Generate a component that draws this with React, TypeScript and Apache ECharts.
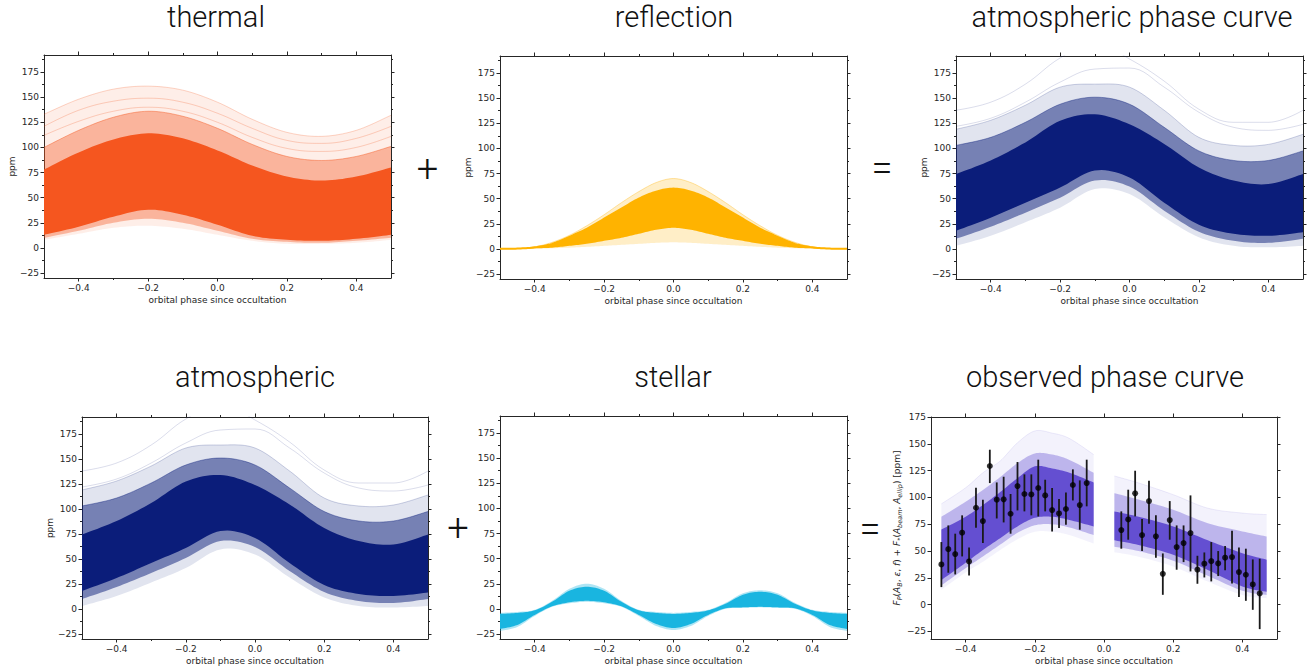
import React, { useEffect, useRef } from "react";
import * as echarts from "echarts";

// ---------- data ----------
const PHASE = [-0.5, -0.4, -0.3, -0.2, -0.1, 0, 0.1, 0.2, 0.3, 0.4, 0.5];
const PHASE_FINE = [-0.5, -0.45, -0.4, -0.35, -0.3, -0.25, -0.2, -0.15, -0.1, -0.05, 0, 0.05, 0.1, 0.15, 0.2, 0.25, 0.3, 0.35, 0.4, 0.45, 0.5];

// thermal
const thermalOuterHi = [133, 148, 158, 161, 157, 145, 128, 115, 111, 117, 132];
const thermalOuterLo = [8, 14, 20, 22, 19, 13, 7, 4, 4, 5, 8];
const thermalMidHi = [100, 117, 130, 136, 131, 119, 103, 91, 87, 91, 101];
const thermalMidLo = [10, 17, 25, 29, 25, 17, 9, 6, 5, 7, 10];
const thermalCoreHi = [78, 95, 108, 114, 109, 97, 82, 71, 67, 71, 80];
const thermalCoreLo = [13, 21, 31, 38, 33, 23, 12, 8, 7, 9, 13];
const thermalLineA = [121, 137, 146, 149, 145, 134, 119, 107, 104, 109, 121];
const thermalLineB = [112, 126, 136, 140, 136, 125, 110, 99, 96, 100, 111];

// reflection
const reflOuterHi = [0, 0.4, 2, 6.5, 13.5, 23, 34, 46, 57, 66, 70, 66, 57, 46, 34, 23, 13.5, 6.5, 2, 0.4, 0];
const reflOuterLo = [0, 0, 0.2, 0.6, 1.2, 2, 3, 4, 5, 6, 6.5, 6, 5, 4, 3, 2, 1.2, 0.6, 0.2, 0, 0];
const reflCoreHi = [0, 0.3, 1.5, 5, 12, 20, 30, 40, 50, 57, 60, 57, 50, 40, 30, 20, 12, 5, 1.5, 0.3, 0];
const reflCoreLo = [0, 0.1, 0.5, 1.2, 3, 5, 8, 11, 15, 19, 21, 19, 15, 11, 8, 5, 3, 1.2, 0.5, 0.1, 0];

// atmospheric (thermal + reflection)
const atmOuterHi = [119, 128, 143, 161, 164, 161, 138, 111, 103, 104, 114];
const atmOuterLo = [3, 13, 26.5, 41, 59.6, 54.5, 31.4, 11.5, 3, 1.5, 3];
const atmMidHi = [103, 111, 126, 144, 151, 144, 121, 97.5, 88, 88, 97.5];
const atmMidLo = [10, 22, 36, 51, 68, 62, 38, 17, 8, 6, 10];
const atmCoreHi = [74.5, 88, 106, 127.5, 134, 124, 104.5, 81, 68, 64.5, 74.5];
const atmCoreLo = [18, 31, 46, 61, 78, 71, 46, 24, 15, 13, 16.5];
const atmLineTop = [138, 146, 164, 190, 205, 189, 167, 139, 126, 126, 138];
const atmLineSecond = [122, 130, 146, 166, 179, 180, 161, 136, 121, 118, 124];

// stellar
const stellarOuterHi = [-4, -3, -1, 8, 20, 25, 20, 8, -1, -3, -4, -3, -1, 6, 15.5, 18.5, 15.5, 6, -1, -3, -4];
const stellarOuterLo = [-22, -18, -7, 2, 5.5, 7, 5.5, 2, -7, -17, -21, -17, -7, 0, 1, 1.5, 1, 0, -7, -18, -22];
const stellarCoreHi = [-5, -4, -1.5, 7, 18, 22, 18, 7, -1.5, -4, -5, -4, -1.5, 5, 14, 17, 14, 5, -1.5, -4, -5];
const stellarCoreLo = [-20, -16, -6, 2.5, 6.5, 8, 6.5, 2.5, -6, -15, -19, -15, -6, 0.5, 1.5, 2, 1.5, 0.5, -6, -16, -20];

// observed: model envelopes
const obsLeftPhase = [-0.47, -0.4, -0.35, -0.3, -0.25, -0.2, -0.15, -0.1, -0.03];
const obsLeftOuterHi = [94, 109, 123, 134, 151, 162, 160, 155, 140];
const obsLeftOuterLo = [14, 30, 40, 51, 61, 68, 68, 65, 57];
const obsLeftMidHi = [82, 96, 107, 119, 132, 141, 140, 135, 123];
const obsLeftMidLo = [18, 34, 45, 56, 67, 74, 75, 72, 65];
const obsLeftCoreHi = [70, 82, 93, 105, 118, 129, 127, 123, 114];
const obsLeftCoreLo = [23, 39, 51, 62, 73, 81, 82, 79, 73];
const obsRightPhase = [0.03, 0.1, 0.2, 0.3, 0.4, 0.47];
const obsRightOuterHi = [120, 113.5, 102.6, 90, 85.4, 84];
const obsRightOuterLo = [49, 44.7, 35.6, 21.5, 9, 6];
const obsRightMidHi = [104, 98, 88.5, 76, 68.3, 63.6];
const obsRightMidLo = [54, 50, 41, 27, 13, 9];
const obsRightCoreHi = [87, 82, 73, 60, 48, 42];
const obsRightCoreLo = [60, 55.6, 46.5, 32.4, 17, 12];

// observed: binned data with error bars
const obsX = [-0.47, -0.45, -0.43, -0.41, -0.39, -0.37, -0.35, -0.33, -0.31, -0.29, -0.27, -0.25, -0.23, -0.21, -0.19, -0.17, -0.15, -0.13, -0.11, -0.09, -0.07, -0.05,
  0.05, 0.07, 0.09, 0.11, 0.13, 0.15, 0.17, 0.19, 0.21, 0.23, 0.25, 0.27, 0.29, 0.31, 0.33, 0.35, 0.37, 0.39, 0.41, 0.43, 0.45];
const obsY = [37.5, 51.8, 47.2, 67.1, 40.3, 90.4, 78.0, 129.3, 97.9, 98.2, 84.8, 110.6, 103.2, 102.8, 108.8, 101.9, 88.2, 85.1, 89.2, 111.6, 92.9, 113.4,
  69.6, 79.5, 103.8, 64.9, 96.6, 63.7, 28.8, 78.9, 53.7, 57.4, 66.8, 32.6, 38.2, 40.6, 38.5, 43.8, 44.4, 30.4, 27.9, 18.9, 10.5];
const obsHi = [58.4, 73.9, 66.2, 83.3, 53.4, 109.1, 97.9, 144.5, 114.0, 119.3, 103.2, 133.0, 121.5, 121.5, 135.2, 116.5, 108.8, 98.5, 104.7, 126.2, 115.9, 135.2,
  87.0, 107.2, 124.9, 79.8, 115.6, 83.3, 47.8, 96.6, 73.9, 73.9, 101.9, 45.6, 48.7, 58.4, 50.0, 54.6, 69.0, 53.4, 52.2, 42.2, 42.8];
const obsLo = [16.4, 29.8, 28.2, 45.0, 27.3, 71.7, 57.4, 113.4, 80.4, 76.7, 66.2, 87.9, 87.0, 83.3, 82.3, 87.0, 68.3, 71.4, 74.5, 97.2, 69.9, 91.7,
  52.2, 60.6, 82.3, 50.0, 75.5, 43.8, 9.2, 60.6, 32.6, 39.7, 31.0, 19.5, 25.4, 21.7, 26.7, 32.0, 19.8, 7.1, 3.6, -4.8, -22.8];

// axis ticks
const X_MAJOR = [-0.4, -0.2, 0, 0.2, 0.4];
const X_MINOR = [-0.3, -0.1, 0.1, 0.3];
const Y_MAJOR = [-25, 0, 25, 50, 75, 100, 125, 150, 175];
const Y_MINOR = [-12.5, 12.5, 37.5, 62.5, 87.5, 112.5, 137.5, 162.5, 187.5];

// ---------- styling ----------
const THERMAL = "#F5561F";
const REFL = "#FFB300";
const NAVY = "#0B1D7A";
const CYAN = "#19B5E0";
const PURPLE = "#5A44CE";
const AX = "#262626";
const TICK_FONT = { fontFamily: "DejaVu Sans", fontSize: 9, color: AX };
const TITLE_FONT = "Roboto, 'Liberation Sans', sans-serif";

const fmt = (v: number, d: number) => (v < 0 ? "\u2212" : "") + Math.abs(v).toFixed(d);

const GRIDS = [
  { left: 44, top: 55, width: 347, height: 223, ymin: -30, ymax: 192, minor: true, yName: "ppm" },
  { left: 500, top: 56, width: 347, height: 223, ymin: -30, ymax: 192, minor: true, yName: "ppm" },
  { left: 956, top: 56, width: 347, height: 223, ymin: -30, ymax: 192, minor: true, yName: "ppm" },
  { left: 82, top: 417, width: 346, height: 222, ymin: -30, ymax: 192, minor: true, yName: "ppm" },
  { left: 500, top: 416, width: 347, height: 223, ymin: -30, ymax: 192, minor: true, yName: "" },
  { left: 931, top: 417, width: 346, height: 222, ymin: -32, ymax: 175, minor: false, yName: "OBS" },
];

const OBS_NAME =
  "{i|F}{s|P}{n|(}{i|A}{s|B}{n|, }{i|\u03b5}{n|, }{i|f}{n|) + }{i|F}{s|*}{n|(}{i|A}{s|beam}{n|, }{i|A}{s|ellip}{n|) [ppm]}";

type Band = { x: number[]; lo: number[]; hi: number[]; color: string; fill: number; lw: number; lineOp?: number };
type Line = { x: number[]; y: number[]; color: string; op: number };

// Catmull-Rom smoothing of already-projected pixel points (rendering only)
function smoothPx(pts: number[][], seg = 10): number[][] {
  const out: number[][] = [];
  const n = pts.length;
  for (let i = 0; i < n - 1; i++) {
    const p0 = pts[Math.max(0, i - 1)];
    const p1 = pts[i];
    const p2 = pts[i + 1];
    const p3 = pts[Math.min(n - 1, i + 2)];
    for (let k = 0; k < seg; k++) {
      const t = k / seg;
      const t2 = t * t;
      const t3 = t2 * t;
      const f = (a: number, b: number, c: number, d: number) =>
        0.5 * (2 * b + (-a + c) * t + (2 * a - 5 * b + 4 * c - d) * t2 + (-a + 3 * b - 3 * c + d) * t3);
      out.push([f(p0[0], p1[0], p2[0], p3[0]), f(p0[1], p1[1], p2[1], p3[1])]);
    }
  }
  out.push(pts[n - 1]);
  return out;
}

function buildOption() {
  const xAxes: any[] = [];
  const yAxes: any[] = [];
  const mainX: number[] = [];
  const mainY: number[] = [];

  GRIDS.forEach((g, gi) => {
    const line = { show: true, onZero: false, lineStyle: { color: AX, width: 1 } };
    const noLine = { show: false, onZero: false };
    const common = { type: "value", gridIndex: gi, splitLine: { show: false } };
    mainX.push(xAxes.length);
    xAxes.push({
      ...common, position: "bottom", min: -0.5, max: 0.5, axisLine: line,
      axisTick: { show: true, inside: false, length: 3.5, customValues: X_MAJOR, lineStyle: { color: AX } },
      axisLabel: { show: true, customValues: X_MAJOR, formatter: (v: number) => fmt(v, 1), margin: 5, ...TICK_FONT },
      name: "orbital phase since occultation", nameLocation: "middle", nameGap: 17, nameTextStyle: { ...TICK_FONT },
    });
    xAxes.push({
      ...common, position: "top", min: -0.5, max: 0.5, axisLine: line,
      axisTick: { show: true, inside: false, length: 3.5, customValues: X_MAJOR, lineStyle: { color: AX } },
      axisLabel: { show: false },
    });
    if (g.minor) {
      for (const pos of ["bottom", "top"]) {
        xAxes.push({
          ...common, position: pos, min: -0.5, max: 0.5, axisLine: noLine,
          axisTick: { show: true, inside: false, length: 2, customValues: X_MINOR, lineStyle: { color: AX } },
          axisLabel: { show: false },
        });
      }
    }
    mainY.push(yAxes.length);
    const yMain: any = {
      ...common, position: "left", min: g.ymin, max: g.ymax, axisLine: line,
      axisTick: { show: true, inside: false, length: 3.5, customValues: Y_MAJOR, lineStyle: { color: AX } },
      axisLabel: { show: true, customValues: Y_MAJOR, formatter: (v: number) => fmt(v, 0), margin: 5, ...TICK_FONT },
    };
    if (g.yName === "ppm") {
      yMain.name = "ppm";
      yMain.nameLocation = "middle";
      yMain.nameGap = 27;
      yMain.nameTextStyle = { ...TICK_FONT };
    } else if (g.yName === "OBS") {
      yMain.name = OBS_NAME;
      yMain.nameLocation = "middle";
      yMain.nameGap = 26;
      yMain.nameTextStyle = {
        ...TICK_FONT,
        rich: {
          n: { fontFamily: "DejaVu Sans", fontSize: 9, color: AX, lineHeight: 12, verticalAlign: "middle" },
          i: { fontFamily: "DejaVu Sans", fontStyle: "italic", fontSize: 9, color: AX, lineHeight: 12, verticalAlign: "middle" },
          s: { fontFamily: "DejaVu Sans", fontStyle: "italic", fontSize: 6.5, color: AX, lineHeight: 7, verticalAlign: "bottom" },
        },
      };
    }
    yAxes.push(yMain);
    yAxes.push({
      ...common, position: "right", min: g.ymin, max: g.ymax, axisLine: line,
      axisTick: { show: true, inside: false, length: 3.5, customValues: Y_MAJOR, lineStyle: { color: AX } },
      axisLabel: { show: false },
    });
    if (g.minor) {
      for (const pos of ["left", "right"]) {
        yAxes.push({
          ...common, position: pos, min: g.ymin, max: g.ymax, axisLine: noLine,
          axisTick: { show: true, inside: false, length: 2, customValues: Y_MINOR, lineStyle: { color: AX } },
          axisLabel: { show: false },
        });
      }
    }
  });

  const series: any[] = [];
  const addBand = (gi: number, b: Band) => {
    series.push({
      type: "custom", xAxisIndex: mainX[gi], yAxisIndex: mainY[gi], silent: true, clip: true,
      data: b.x.map((v, i) => [v, b.lo[i], b.hi[i]]),
      encode: { x: 0, y: [1, 2] },
      renderItem: (params: any, api: any) => {
        if (params.dataIndex !== 0) return null;
        const up = smoothPx(b.x.map((v, i) => api.coord([v, b.hi[i]])));
        const dn = smoothPx(b.x.map((v, i) => api.coord([v, b.lo[i]])));
        const children: any[] = [
          { type: "polygon", shape: { points: up.concat(dn.slice().reverse()) }, style: { fill: b.color, opacity: b.fill } },
        ];
        if (b.lw > 0) {
          children.push({
            type: "polyline", shape: { points: up },
            style: { fill: "none", stroke: b.color, lineWidth: b.lw, opacity: b.lineOp ?? 1 },
          });
        }
        return { type: "group", children };
      },
    });
  };
  const addLine = (gi: number, l: Line) => {
    series.push({
      type: "line", xAxisIndex: mainX[gi], yAxisIndex: mainY[gi], smooth: 0.4, symbol: "none", silent: true,
      data: l.x.map((v, i) => [v, l.y[i]]), lineStyle: { width: 1, color: l.color, opacity: l.op },
    });
  };

  // thermal
  addBand(0, { x: PHASE, lo: thermalOuterLo, hi: thermalOuterHi, color: THERMAL, fill: 0.1, lw: 1, lineOp: 0.25 });
  addLine(0, { x: PHASE, y: thermalLineA, color: THERMAL, op: 0.25 });
  addLine(0, { x: PHASE, y: thermalLineB, color: THERMAL, op: 0.25 });
  addBand(0, { x: PHASE, lo: thermalMidLo, hi: thermalMidHi, color: THERMAL, fill: 0.38, lw: 1, lineOp: 0.45 });
  addBand(0, { x: PHASE, lo: thermalCoreLo, hi: thermalCoreHi, color: THERMAL, fill: 1, lw: 0 });

  // reflection
  addBand(1, { x: PHASE_FINE, lo: reflOuterLo, hi: reflOuterHi, color: REFL, fill: 0.22, lw: 1, lineOp: 0.35 });
  addBand(1, { x: PHASE_FINE, lo: reflCoreLo, hi: reflCoreHi, color: REFL, fill: 1, lw: 2, lineOp: 1 });

  // atmospheric phase curve (row 1) and atmospheric (row 2)
  for (const gi of [2, 3]) {
    addBand(gi, { x: PHASE, lo: atmOuterLo, hi: atmOuterHi, color: NAVY, fill: 0.12, lw: 1, lineOp: 0.2 });
    addLine(gi, { x: PHASE, y: atmLineTop, color: NAVY, op: 0.15 });
    addLine(gi, { x: PHASE, y: atmLineSecond, color: NAVY, op: 0.15 });
    addBand(gi, { x: PHASE, lo: atmMidLo, hi: atmMidHi, color: NAVY, fill: 0.5, lw: 1, lineOp: 0.4 });
    addBand(gi, { x: PHASE, lo: atmCoreLo, hi: atmCoreHi, color: NAVY, fill: 1, lw: 0 });
  }

  // stellar
  addBand(4, { x: PHASE_FINE, lo: stellarOuterLo, hi: stellarOuterHi, color: CYAN, fill: 0.35, lw: 0 });
  addBand(4, { x: PHASE_FINE, lo: stellarCoreLo, hi: stellarCoreHi, color: CYAN, fill: 1, lw: 0 });

  // observed
  addBand(5, { x: obsLeftPhase, lo: obsLeftOuterLo, hi: obsLeftOuterHi, color: PURPLE, fill: 0.07, lw: 1, lineOp: 0.1 });
  addBand(5, { x: obsLeftPhase, lo: obsLeftMidLo, hi: obsLeftMidHi, color: PURPLE, fill: 0.35, lw: 0 });
  addBand(5, { x: obsLeftPhase, lo: obsLeftCoreLo, hi: obsLeftCoreHi, color: PURPLE, fill: 0.9, lw: 0 });
  addBand(5, { x: obsRightPhase, lo: obsRightOuterLo, hi: obsRightOuterHi, color: PURPLE, fill: 0.07, lw: 1, lineOp: 0.1 });
  addBand(5, { x: obsRightPhase, lo: obsRightMidLo, hi: obsRightMidHi, color: PURPLE, fill: 0.35, lw: 0 });
  addBand(5, { x: obsRightPhase, lo: obsRightCoreLo, hi: obsRightCoreHi, color: PURPLE, fill: 0.9, lw: 0 });

  series.push({
    type: "custom", xAxisIndex: mainX[5], yAxisIndex: mainY[5], silent: true,
    data: obsX.map((v, i) => [v, obsLo[i], obsHi[i]]),
    encode: { x: 0, y: [1, 2] },
    renderItem: (_p: any, api: any) => {
      const a = api.coord([api.value(0), api.value(1)]);
      const b = api.coord([api.value(0), api.value(2)]);
      return { type: "line", shape: { x1: a[0], y1: a[1], x2: b[0], y2: b[1] }, style: { stroke: "#1a1a1a", lineWidth: 1.8 } };
    },
  });
  series.push({
    type: "scatter", xAxisIndex: mainX[5], yAxisIndex: mainY[5], silent: true, symbol: "circle", symbolSize: 6,
    itemStyle: { color: "#000" }, data: obsX.map((v, i) => [v, obsY[i]]),
  });

  const title = (text: string, x: number, y: number) => ({
    type: "text", x, y, silent: true,
    style: { text, fill: "#111", fontFamily: TITLE_FONT, fontWeight: 300, fontSize: 29, lineHeight: 29, align: "center", verticalAlign: "middle" },
  });
  const op = (text: string, x: number, y: number) => ({
    type: "text", x, y, silent: true,
    style: { text, fill: "#111", fontFamily: TITLE_FONT, fontWeight: 300, fontSize: 38, align: "center", verticalAlign: "middle" },
  });

  return {
    animation: false,
    backgroundColor: "#fff",
    grid: GRIDS.map((g) => ({ left: g.left, top: g.top, width: g.width, height: g.height, containLabel: false, outerBoundsMode: "none" })),
    xAxis: xAxes,
    yAxis: yAxes,
    series,
    graphic: [
      title("thermal", 216, 16.5),
      title("reflection", 674, 16.5),
      title("atmospheric phase curve", 1132, 16.5),
      title("atmospheric", 255, 377),
      title("stellar", 673, 377),
      title("observed phase curve", 1105, 377),
      op("+", 427.5, 168.5),
      op("=", 882, 168),
      op("+", 458, 528),
      op("=", 870, 529),
    ],
  };
}

export default function App() {
  const ref = useRef<HTMLDivElement>(null);
  useEffect(() => {
    if (!ref.current) return;
    const chart = echarts.init(ref.current, undefined, { renderer: "svg" });
    chart.setOption(buildOption() as any);
    return () => chart.dispose();
  }, []);
  return <div ref={ref} style={{ position: "fixed", left: 0, top: 0, width: 1316, height: 671, background: "#fff" }} />;
}
